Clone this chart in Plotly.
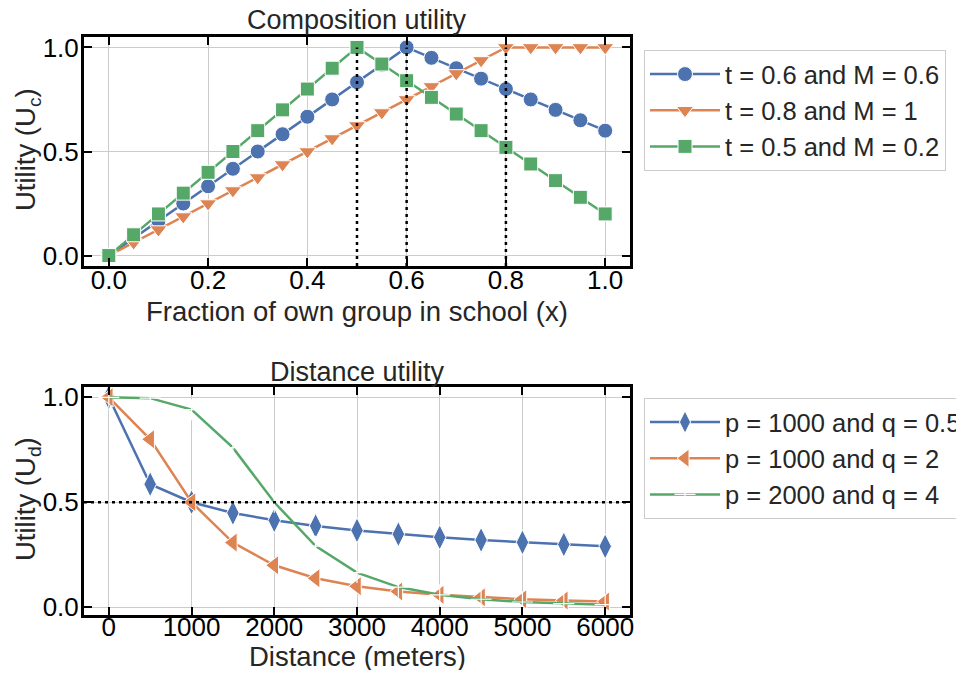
import plotly.graph_objects as go

# ---------------- data ----------------
frac_x = [0.0, 0.05, 0.1, 0.15, 0.2, 0.25, 0.3, 0.35, 0.4, 0.45, 0.5,
          0.55, 0.6, 0.65, 0.7, 0.75, 0.8, 0.85, 0.9, 0.95, 1.0]
comp_t06_m06 = [0.0, 0.083, 0.167, 0.25, 0.333, 0.417, 0.5, 0.583, 0.667, 0.75, 0.833,
                0.917, 1.0, 0.95, 0.9, 0.85, 0.8, 0.75, 0.7, 0.65, 0.6]
comp_t08_m1 = [0.0, 0.0625, 0.125, 0.1875, 0.25, 0.3125, 0.375, 0.4375, 0.5, 0.5625, 0.625,
               0.6875, 0.75, 0.8125, 0.875, 0.9375, 1.0, 1.0, 1.0, 1.0, 1.0]
comp_t05_m02 = [0.0, 0.1, 0.2, 0.3, 0.4, 0.5, 0.6, 0.7, 0.8, 0.9, 1.0,
                0.92, 0.84, 0.76, 0.68, 0.6, 0.52, 0.44, 0.36, 0.28, 0.2]
thresholds = [0.5, 0.6, 0.8]

dist_x = [0, 500, 1000, 1500, 2000, 2500, 3000, 3500, 4000, 4500, 5000, 5500, 6000]
dist_p1000_q05 = [1.0, 0.586, 0.5, 0.449, 0.414, 0.387, 0.366, 0.348, 0.333, 0.320, 0.309, 0.299, 0.290]
dist_p1000_q2 = [1.0, 0.8, 0.5, 0.308, 0.2, 0.138, 0.1, 0.075, 0.059, 0.047, 0.038, 0.032, 0.027]
dist_p2000_q4 = [1.0, 0.996, 0.941, 0.760, 0.5, 0.291, 0.165, 0.096, 0.059, 0.038, 0.025, 0.017, 0.012]
half_level = 0.5

comp_labels = ["t = 0.6 and M = 0.6", "t = 0.8 and M = 1", "t = 0.5 and M = 0.2"]
dist_labels = ["p = 1000 and q = 0.5", "p = 1000 and q = 2", "p = 2000 and q = 4"]
frac_ticks = [0.0, 0.2, 0.4, 0.6, 0.8, 1.0]
util_ticks = [0.0, 0.5, 1.0]
dist_ticks = [0, 1000, 2000, 3000, 4000, 5000, 6000]

# ---------------- style ----------------
BLUE, ORANGE, GREEN = "#4C72B0", "#DD8452", "#55A868"
FONT = "Liberation Sans, Arial, sans-serif"
TXT = "#262626"
OFF = 8                      # default body margin of the html page
W, H = 964 - 2 * OFF, 678 - 2 * OFF
FS_TICK, FS_LAB, FS_TITLE, FS_LEG = 26, 27.5, 27, 25.5


def px_x(p):
    return (p - OFF) / W


def px_y(p):
    return 1 - (p - OFF) / H


fig = go.Figure()

comp_series = [comp_t06_m06, comp_t08_m1, comp_t05_m02]
colors = [BLUE, ORANGE, GREEN]
comp_symbols = ["circle", "triangle-down", "square"]
comp_sizes = [15, 15, 14]
for ys, c, s, sz, lab in zip(comp_series, colors, comp_symbols, comp_sizes, comp_labels):
    fig.add_trace(go.Scatter(
        x=frac_x, y=ys, mode="lines+markers", name=lab,
        line=dict(color=c, width=2.5),
        marker=dict(symbol=s, size=sz, color=c, line=dict(color="white", width=1)),
        xaxis="x", yaxis="y", legend="legend"))

dist_series = [dist_p1000_q05, dist_p1000_q2, dist_p2000_q4]
dist_symbols = ["diamond-tall", "triangle-left", "cross-thin"]
dist_sizes = [18, 17, 15]
for ys, c, s, sz, lab in zip(dist_series, colors, dist_symbols, dist_sizes, dist_labels):
    mk = dict(symbol=s, size=sz, color=c, line=dict(color="white", width=1))
    if s == "cross-thin":
        mk["line"] = dict(color="white", width=1.2)
    fig.add_trace(go.Scatter(
        x=dist_x, y=ys, mode="lines+markers", name=lab,
        line=dict(color=c, width=2.5), marker=mk,
        xaxis="x2", yaxis="y2", legend="legend2"))

# dotted reference lines
for t in thresholds:
    fig.add_shape(type="line", xref="x", yref="y", x0=t, x1=t, y0=-0.05, y1=1.0,
                  line=dict(color="black", width=2.5, dash="3px,4px"), layer="above")
fig.add_shape(type="line", xref="x2 domain", yref="y2", x0=0, x1=1, y0=half_level, y1=half_level,
              line=dict(color="black", width=2.5, dash="3px,4px"), layer="above")

xdom = [px_x(84), px_x(630)]
axis_common = dict(
    showline=True, linecolor="black", linewidth=3, mirror="allticks",
    ticks="inside", ticklen=8, tickwidth=2, tickcolor="black",
    showgrid=True, gridcolor="#cccccc", gridwidth=1, zeroline=False,
    tickangle=0,
    tickfont=dict(family=FONT, size=FS_TICK, color="black"),
)
xaxis_common = dict(axis_common, ticklabelstandoff=-11)
xaxis2_common = dict(axis_common, ticklabelstandoff=-13)
yaxis_common = dict(axis_common, ticklabelstandoff=-3)

leg_common = dict(xanchor="left", yanchor="top",
                  bordercolor="#cccccc", borderwidth=1, bgcolor="white", itemwidth=70,
                  font=dict(family=FONT, size=FS_LEG, color=TXT))

fig.update_layout(
    width=W, height=H,
    margin=dict(l=0, r=0, t=0, b=0, autoexpand=False),
    paper_bgcolor="white", plot_bgcolor="white",
    font=dict(family=FONT, size=FS_TICK, color=TXT),
    xaxis=dict(domain=xdom, range=[-0.05, 1.05], tickvals=frac_ticks, tickformat=".1f",
               anchor="y", **xaxis_common),
    yaxis=dict(domain=[px_y(266), px_y(37)], range=[-0.05, 1.05], tickvals=util_ticks,
               tickformat=".1f", anchor="x", **yaxis_common),
    xaxis2=dict(domain=xdom, range=[-300, 6300], tickvals=dist_ticks, anchor="y2", **xaxis2_common),
    yaxis2=dict(domain=[px_y(615), px_y(387)], range=[-0.037, 1.049], tickvals=util_ticks,
                tickformat=".1f", anchor="x2", **yaxis_common),
    legend=dict(x=px_x(644), y=px_y(50), **leg_common),
    legend2=dict(x=px_x(644), y=px_y(398), **leg_common),
    showlegend=True,
)

annots = [
    dict(text="Composition utility", x=px_x(357), y=px_y(20), size=FS_TITLE),
    dict(text="Distance utility", x=px_x(357), y=px_y(372), size=FS_TITLE),
    dict(text="Fraction of own group in school (x)", x=px_x(357), y=px_y(312), size=FS_LAB),
    dict(text="Distance (meters)", x=px_x(357), y=px_y(656), size=FS_LAB),
    dict(text="Utility (U<sub>c</sub>)", x=px_x(27), y=px_y(150), size=FS_LAB, textangle=-90),
    dict(text="Utility (U<sub>d</sub>)", x=px_x(27), y=px_y(499), size=FS_LAB, textangle=-90),
]
for a in annots:
    size = a.pop("size")
    fig.add_annotation(xref="paper", yref="paper", showarrow=False,
                       xanchor="center", yanchor="middle",
                       font=dict(family=FONT, size=size, color=TXT), **a)

fig.write_html("out.html")
